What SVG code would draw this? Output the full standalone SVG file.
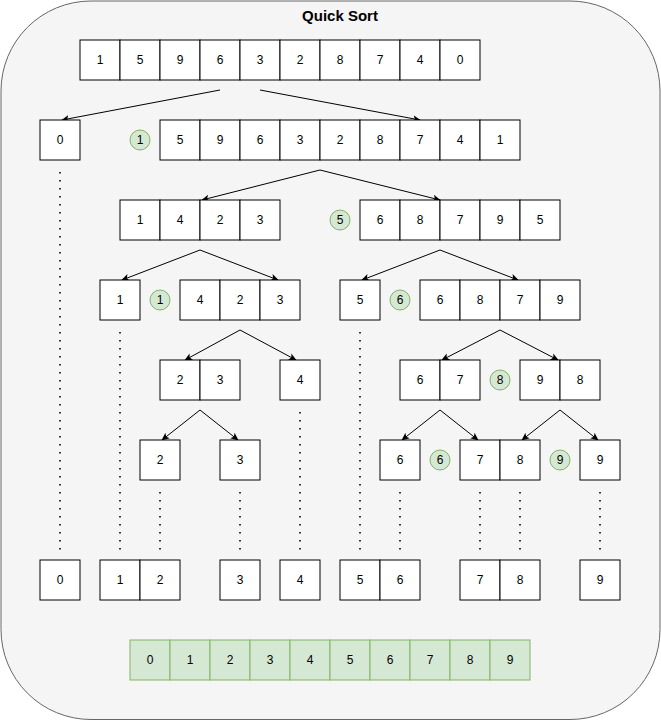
<svg xmlns="http://www.w3.org/2000/svg" width="661" height="721" viewBox="0 0 661 721">
<defs>
<style>
.c{fill:#ffffff;stroke:#000000;stroke-width:1}
.g{fill:#d5e8d4;stroke:#82b366;stroke-width:1}
.t{font-family:"Liberation Sans",Arial,sans-serif;font-size:12px;fill:#000000;text-anchor:middle;dominant-baseline:central}
.e{fill:none;stroke:#000000;stroke-width:1}
.d{fill:none;stroke:#000000;stroke-width:1.6;stroke-dasharray:1.6 6.4}
</style>
<marker id="ah" viewBox="0 0 10 10" refX="9" refY="5" markerWidth="8" markerHeight="8" orient="auto" markerUnits="userSpaceOnUse">
<path d="M0,0.5 L10,5 L0,9.5 L2.5,5 Z" fill="#000000"/>
</marker>
</defs>
<rect x="1" y="1" width="659" height="718.5" rx="90" ry="90" fill="#f5f5f5" stroke="#666666"/>
<text x="340" y="15" class="t" style="font-size:15px;font-weight:bold">Quick Sort</text>

<g id="connectors">
<path class="e" d="M220,90 L62,120" marker-end="url(#ah)"/>
<path class="e" d="M260,90 L420,120" marker-end="url(#ah)"/>
<path class="e" d="M320,170 L202,200" marker-end="url(#ah)"/>
<path class="e" d="M320,170 L440,200" marker-end="url(#ah)"/>
<path class="e" d="M200,250 L122,280" marker-end="url(#ah)"/>
<path class="e" d="M200,250 L278,280" marker-end="url(#ah)"/>
<path class="e" d="M440,250 L362,280" marker-end="url(#ah)"/>
<path class="e" d="M440,250 L518,280" marker-end="url(#ah)"/>
<path class="e" d="M240,330 L185,360" marker-end="url(#ah)"/>
<path class="e" d="M240,330 L296,360" marker-end="url(#ah)"/>
<path class="e" d="M500,330 L442,360" marker-end="url(#ah)"/>
<path class="e" d="M500,330 L558,360" marker-end="url(#ah)"/>
<path class="e" d="M200,410 L162,440" marker-end="url(#ah)"/>
<path class="e" d="M200,410 L238,440" marker-end="url(#ah)"/>
<path class="e" d="M440,410 L402,440" marker-end="url(#ah)"/>
<path class="e" d="M440,410 L478,440" marker-end="url(#ah)"/>
<path class="e" d="M560,410 L522,440" marker-end="url(#ah)"/>
<path class="e" d="M560,410 L598,440" marker-end="url(#ah)"/>
<path class="d" d="M60,172 L60,552"/>
<path class="d" d="M120,332 L120,552"/>
<path class="d" d="M160,492 L160,552"/>
<path class="d" d="M240,492 L240,552"/>
<path class="d" d="M300,412 L300,552"/>
<path class="d" d="M360,332 L360,552"/>
<path class="d" d="M400,492 L400,552"/>
<path class="d" d="M480,492 L480,552"/>
<path class="d" d="M520,492 L520,552"/>
<path class="d" d="M600,492 L600,552"/>
</g>

<g id="row1">
<rect class="c" x="80" y="40" width="40" height="40"/><text class="t" x="100" y="60">1</text>
<rect class="c" x="120" y="40" width="40" height="40"/><text class="t" x="140" y="60">5</text>
<rect class="c" x="160" y="40" width="40" height="40"/><text class="t" x="180" y="60">9</text>
<rect class="c" x="200" y="40" width="40" height="40"/><text class="t" x="220" y="60">6</text>
<rect class="c" x="240" y="40" width="40" height="40"/><text class="t" x="260" y="60">3</text>
<rect class="c" x="280" y="40" width="40" height="40"/><text class="t" x="300" y="60">2</text>
<rect class="c" x="320" y="40" width="40" height="40"/><text class="t" x="340" y="60">8</text>
<rect class="c" x="360" y="40" width="40" height="40"/><text class="t" x="380" y="60">7</text>
<rect class="c" x="400" y="40" width="40" height="40"/><text class="t" x="420" y="60">4</text>
<rect class="c" x="440" y="40" width="40" height="40"/><text class="t" x="460" y="60">0</text>
</g>

<g id="row2-left">
<rect class="c" x="40" y="120" width="40" height="40"/><text class="t" x="60" y="140">0</text>
</g>
<g id="pivot-r2">
<circle class="g" cx="140" cy="140" r="10"/><text class="t" x="140" y="140">1</text>
</g>
<g id="row2-right">
<rect class="c" x="160" y="120" width="40" height="40"/><text class="t" x="180" y="140">5</text>
<rect class="c" x="200" y="120" width="40" height="40"/><text class="t" x="220" y="140">9</text>
<rect class="c" x="240" y="120" width="40" height="40"/><text class="t" x="260" y="140">6</text>
<rect class="c" x="280" y="120" width="40" height="40"/><text class="t" x="300" y="140">3</text>
<rect class="c" x="320" y="120" width="40" height="40"/><text class="t" x="340" y="140">2</text>
<rect class="c" x="360" y="120" width="40" height="40"/><text class="t" x="380" y="140">8</text>
<rect class="c" x="400" y="120" width="40" height="40"/><text class="t" x="420" y="140">7</text>
<rect class="c" x="440" y="120" width="40" height="40"/><text class="t" x="460" y="140">4</text>
<rect class="c" x="480" y="120" width="40" height="40"/><text class="t" x="500" y="140">1</text>
</g>

<g id="row3-left">
<rect class="c" x="120" y="200" width="40" height="40"/><text class="t" x="140" y="220">1</text>
<rect class="c" x="160" y="200" width="40" height="40"/><text class="t" x="180" y="220">4</text>
<rect class="c" x="200" y="200" width="40" height="40"/><text class="t" x="220" y="220">2</text>
<rect class="c" x="240" y="200" width="40" height="40"/><text class="t" x="260" y="220">3</text>
</g>
<g id="pivot-r3">
<circle class="g" cx="340" cy="220" r="10"/><text class="t" x="340" y="220">5</text>
</g>
<g id="row3-right">
<rect class="c" x="360" y="200" width="40" height="40"/><text class="t" x="380" y="220">6</text>
<rect class="c" x="400" y="200" width="40" height="40"/><text class="t" x="420" y="220">8</text>
<rect class="c" x="440" y="200" width="40" height="40"/><text class="t" x="460" y="220">7</text>
<rect class="c" x="480" y="200" width="40" height="40"/><text class="t" x="500" y="220">9</text>
<rect class="c" x="520" y="200" width="40" height="40"/><text class="t" x="540" y="220">5</text>
</g>

<g id="row4-a">
<rect class="c" x="100" y="280" width="40" height="40"/><text class="t" x="120" y="300">1</text>
</g>
<g id="pivot-r4a">
<circle class="g" cx="160" cy="300" r="10"/><text class="t" x="160" y="300">1</text>
</g>
<g id="row4-b">
<rect class="c" x="180" y="280" width="40" height="40"/><text class="t" x="200" y="300">4</text>
<rect class="c" x="220" y="280" width="40" height="40"/><text class="t" x="240" y="300">2</text>
<rect class="c" x="260" y="280" width="40" height="40"/><text class="t" x="280" y="300">3</text>
</g>
<g id="row4-c">
<rect class="c" x="340" y="280" width="40" height="40"/><text class="t" x="360" y="300">5</text>
</g>
<g id="pivot-r4b">
<circle class="g" cx="400" cy="300" r="10"/><text class="t" x="400" y="300">6</text>
</g>
<g id="row4-d">
<rect class="c" x="420" y="280" width="40" height="40"/><text class="t" x="440" y="300">6</text>
<rect class="c" x="460" y="280" width="40" height="40"/><text class="t" x="480" y="300">8</text>
<rect class="c" x="500" y="280" width="40" height="40"/><text class="t" x="520" y="300">7</text>
<rect class="c" x="540" y="280" width="40" height="40"/><text class="t" x="560" y="300">9</text>
</g>

<g id="row5-a">
<rect class="c" x="160" y="360" width="40" height="40"/><text class="t" x="180" y="380">2</text>
<rect class="c" x="200" y="360" width="40" height="40"/><text class="t" x="220" y="380">3</text>
</g>
<g id="row5-b">
<rect class="c" x="280" y="360" width="40" height="40"/><text class="t" x="300" y="380">4</text>
</g>
<g id="row5-c">
<rect class="c" x="400" y="360" width="40" height="40"/><text class="t" x="420" y="380">6</text>
<rect class="c" x="440" y="360" width="40" height="40"/><text class="t" x="460" y="380">7</text>
</g>
<g id="pivot-r5">
<circle class="g" cx="500" cy="380" r="10"/><text class="t" x="500" y="380">8</text>
</g>
<g id="row5-d">
<rect class="c" x="520" y="360" width="40" height="40"/><text class="t" x="540" y="380">9</text>
<rect class="c" x="560" y="360" width="40" height="40"/><text class="t" x="580" y="380">8</text>
</g>

<g id="row6-a">
<rect class="c" x="140" y="440" width="40" height="40"/><text class="t" x="160" y="460">2</text>
</g>
<g id="row6-b">
<rect class="c" x="220" y="440" width="40" height="40"/><text class="t" x="240" y="460">3</text>
</g>
<g id="row6-c">
<rect class="c" x="380" y="440" width="40" height="40"/><text class="t" x="400" y="460">6</text>
</g>
<g id="pivot-r6a">
<circle class="g" cx="440" cy="460" r="10"/><text class="t" x="440" y="460">6</text>
</g>
<g id="row6-d">
<rect class="c" x="460" y="440" width="40" height="40"/><text class="t" x="480" y="460">7</text>
<rect class="c" x="500" y="440" width="40" height="40"/><text class="t" x="520" y="460">8</text>
</g>
<g id="pivot-r6b">
<circle class="g" cx="560" cy="460" r="10"/><text class="t" x="560" y="460">9</text>
</g>
<g id="row6-e">
<rect class="c" x="580" y="440" width="40" height="40"/><text class="t" x="600" y="460">9</text>
</g>

<g id="row7-0">
<rect class="c" x="40" y="560" width="40" height="40"/><text class="t" x="60" y="580">0</text>
</g>
<g id="row7-12">
<rect class="c" x="100" y="560" width="40" height="40"/><text class="t" x="120" y="580">1</text>
<rect class="c" x="140" y="560" width="40" height="40"/><text class="t" x="160" y="580">2</text>
</g>
<g id="row7-3">
<rect class="c" x="220" y="560" width="40" height="40"/><text class="t" x="240" y="580">3</text>
</g>
<g id="row7-4">
<rect class="c" x="280" y="560" width="40" height="40"/><text class="t" x="300" y="580">4</text>
</g>
<g id="row7-56">
<rect class="c" x="340" y="560" width="40" height="40"/><text class="t" x="360" y="580">5</text>
<rect class="c" x="380" y="560" width="40" height="40"/><text class="t" x="400" y="580">6</text>
</g>
<g id="row7-78">
<rect class="c" x="460" y="560" width="40" height="40"/><text class="t" x="480" y="580">7</text>
<rect class="c" x="500" y="560" width="40" height="40"/><text class="t" x="520" y="580">8</text>
</g>
<g id="row7-9">
<rect class="c" x="580" y="560" width="40" height="40"/><text class="t" x="600" y="580">9</text>
</g>

<g id="sorted">
<rect class="g" x="130" y="640" width="40" height="40"/><text class="t" x="150" y="660">0</text>
<rect class="g" x="170" y="640" width="40" height="40"/><text class="t" x="190" y="660">1</text>
<rect class="g" x="210" y="640" width="40" height="40"/><text class="t" x="230" y="660">2</text>
<rect class="g" x="250" y="640" width="40" height="40"/><text class="t" x="270" y="660">3</text>
<rect class="g" x="290" y="640" width="40" height="40"/><text class="t" x="310" y="660">4</text>
<rect class="g" x="330" y="640" width="40" height="40"/><text class="t" x="350" y="660">5</text>
<rect class="g" x="370" y="640" width="40" height="40"/><text class="t" x="390" y="660">6</text>
<rect class="g" x="410" y="640" width="40" height="40"/><text class="t" x="430" y="660">7</text>
<rect class="g" x="450" y="640" width="40" height="40"/><text class="t" x="470" y="660">8</text>
<rect class="g" x="490" y="640" width="40" height="40"/><text class="t" x="510" y="660">9</text>
</g>
</svg>
